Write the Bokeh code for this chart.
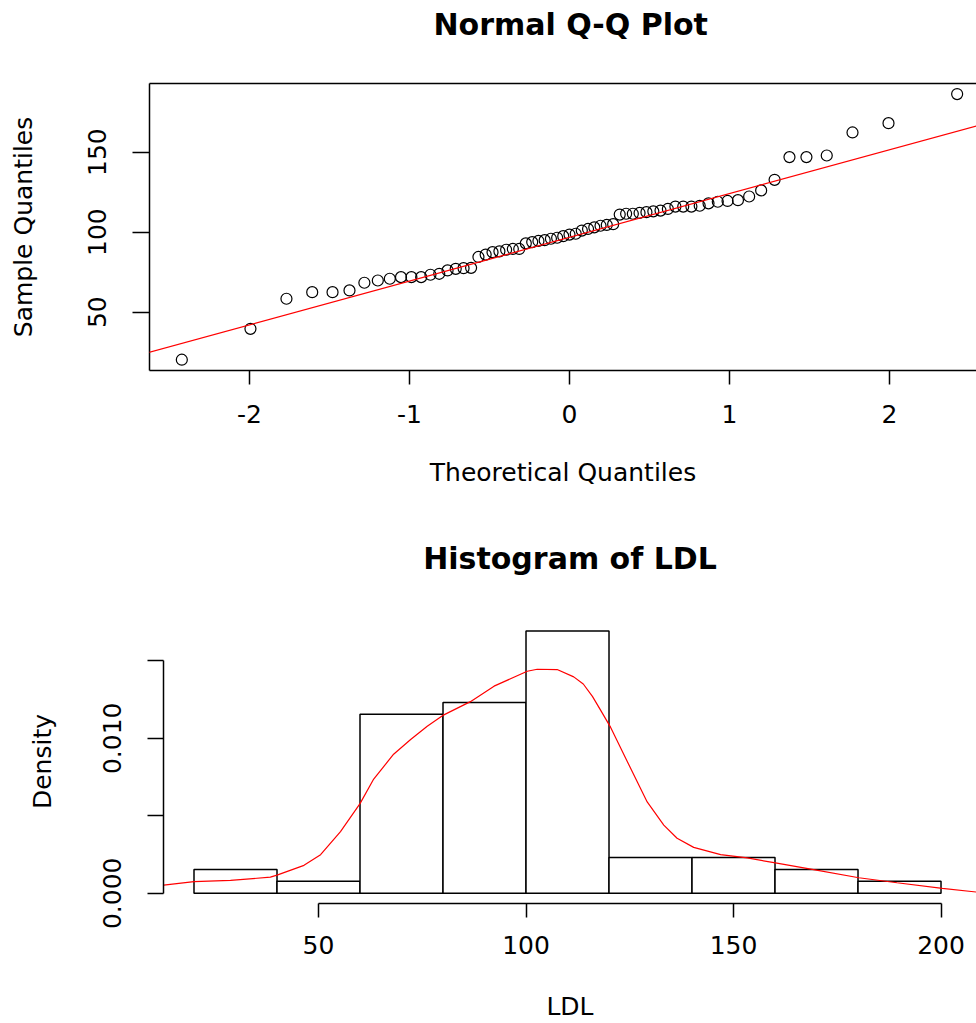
from bokeh.plotting import figure
from bokeh.models import LinearAxis, FixedTicker, Slope, Range1d, Title
from bokeh.embed import file_html
from bokeh.resources import INLINE

# ---------------- data: Normal Q-Q plot ----------------
theoretical_q = [-2.423, -1.994, -1.769, -1.608, -1.481, -1.375, -1.282, -1.198, -1.123, -1.053,
                 -0.988, -0.927, -0.869, -0.814, -0.762, -0.711, -0.662, -0.615, -0.569, -0.524,
                 -0.481, -0.438, -0.396, -0.354, -0.314, -0.273, -0.233, -0.194, -0.155, -0.116,
                 -0.077, -0.039, 0.0, 0.039, 0.077, 0.116, 0.155, 0.194, 0.233, 0.273,
                 0.314, 0.354, 0.396, 0.438, 0.481, 0.524, 0.569, 0.615, 0.662, 0.711,
                 0.762, 0.814, 0.869, 0.927, 0.988, 1.053, 1.123, 1.198, 1.282, 1.375,
                 1.481, 1.608, 1.769, 1.994, 2.423]
sample_q = [20.3, 39.6, 58.4, 62.5, 62.5, 63.6, 68.4, 69.8, 70.9, 71.9,
            71.9, 71.9, 73.4, 74.0, 76.1, 77.1, 77.5, 77.7, 84.5, 86.0,
            87.5, 88.0, 89.0, 89.5, 89.5, 93.0, 93.8, 94.5, 95.0, 95.9,
            96.5, 97.5, 98.5, 99.0, 101.0, 102.0, 103.0, 104.0, 104.5, 105.0,
            111.0, 111.5, 111.5, 112.0, 112.5, 113.0, 113.5, 114.5, 116.0, 116.0,
            116.0, 116.5, 118.0, 119.0, 119.5, 120.0, 122.3, 126.1, 132.7, 146.9,
            146.9, 147.9, 162.3, 168.1, 186.3]
qq_line_intercept = 96.8
qq_line_slope = 27.35
qq_xticks = [-2, -1, 0, 1, 2]
qq_xtick_labels = ["-2", "-1", "0", "1", "2"]
qq_yticks = [50, 100, 150]

# ---------------- data: histogram of LDL ----------------
bin_edges = [20, 40, 60, 80, 100, 120, 140, 160, 180, 200]
bin_density = [0.00154, 0.00077, 0.01154, 0.01231, 0.01692, 0.00231, 0.00231, 0.00154, 0.00077]
kde_x = [12.7, 20, 28.8, 38.4, 40, 46.5, 50.5, 55.3, 60, 63.3, 68.1, 72.2, 76.2, 80.2, 86.6,
         92.3, 100.3, 102.7, 107.5, 111.5, 113.8, 116, 118, 120.4, 124.4, 129.2, 133.2, 136.4,
         140.4, 146.9, 153.3, 160.1, 169.3, 180.2, 189.4, 200.3, 208.5]
kde_y = [0.00052, 0.00075, 0.00083, 0.00104, 0.00117, 0.0018, 0.00249, 0.00398, 0.00578,
         0.00737, 0.00897, 0.00992, 0.01077, 0.01151, 0.01236, 0.01336, 0.01432, 0.01445,
         0.01443, 0.01396, 0.0135, 0.0127, 0.0118, 0.0107, 0.0085, 0.00589, 0.0044, 0.00355,
         0.00296, 0.00249, 0.00228, 0.00196, 0.00153, 0.001, 0.00068, 0.00032, 0.00008]
hist_xticks = [50, 100, 150, 200]
hist_yticks = [0, 0.005, 0.01, 0.015]
hist_ytick_labels = ["0.000", "", "0.010", ""]

FONT = "DejaVu Sans"
FS = "25px"
LW = 1.5


def style_axis(ax, tick_out, label_standoff, axis_label_standoff):
    ax.axis_line_color = "black"
    ax.axis_line_width = LW
    ax.major_tick_line_color = "black"
    ax.major_tick_line_width = LW
    ax.major_tick_out = tick_out
    ax.major_tick_in = 0
    ax.minor_tick_line_color = None
    ax.major_label_text_font = FONT
    ax.major_label_text_font_size = FS
    ax.major_label_text_color = "black"
    ax.major_label_standoff = label_standoff
    ax.axis_label_text_font = FONT
    ax.axis_label_text_font_size = FS
    ax.axis_label_text_font_style = "normal"
    ax.axis_label_text_color = "black"
    ax.axis_label_standoff = axis_label_standoff


def make_title(text, align, offset):
    return Title(text=text, text_font=FONT, text_font_size="30px", text_font_style="bold",
                 text_color="black", align=align, offset=offset, standoff=4)


def top_edge_axis(visible_line, gap, anchor):
    # edge line above the frame; its (invisible) tick keeps the title at a distance
    ax = LinearAxis(ticker=FixedTicker(ticks=[anchor], minor_ticks=[]))
    ax.major_label_overrides = {anchor: ""}
    ax.axis_line_color = "black" if visible_line else None
    ax.axis_line_width = LW
    ax.major_tick_line_color = None
    ax.major_tick_out = gap
    ax.major_tick_in = 0
    ax.minor_tick_out = 0
    ax.minor_tick_in = 0
    ax.major_label_standoff = 0
    ax.major_label_text_font_size = "1px"
    return ax


# ---------------- top: Q-Q plot ----------------
p1 = figure(width=976, height=505, output_backend="svg", toolbar_location=None,
            x_range=Range1d(-2.625, 2.544), y_range=Range1d(13.56, 192.9),
            min_border_left=149, min_border_right=0, min_border_top=83, min_border_bottom=135,
            x_axis_label="Theoretical Quantiles", y_axis_label="Sample Quantiles")
p1.grid.visible = False
p1.outline_line_color = None
p1.background_fill_color = "white"
p1.border_fill_color = "white"

p1.xaxis.ticker = FixedTicker(ticks=qq_xticks, minor_ticks=[])
p1.xaxis.major_label_overrides = {t: s for t, s in zip(qq_xticks, qq_xtick_labels)}
p1.yaxis.ticker = FixedTicker(ticks=qq_yticks, minor_ticks=[])
style_axis(p1.xaxis[0], 14, 20, 32)
style_axis(p1.yaxis[0], 17, 26, 48)
p1.yaxis.major_label_orientation = "vertical"
p1.add_layout(top_edge_axis(True, 40, 0), "above")
p1.add_layout(make_title("Normal Q-Q Plot", "left", 284), "above")

p1.scatter(theoretical_q, sample_q, marker="circle", size=11, fill_color=None,
           line_color="black", line_width=1.2)
p1.add_layout(Slope(gradient=qq_line_slope, y_intercept=qq_line_intercept,
                    line_color="red", line_width=1.2))

# ---------------- bottom: histogram ----------------
p2 = figure(width=976, height=518, output_backend="svg", toolbar_location=None,
            x_range=Range1d(12.65, 208.55), y_range=Range1d(-0.00066, 0.01766),
            min_border_left=163, min_border_right=0, min_border_top=114, min_border_bottom=117,
            x_axis_label="LDL", y_axis_label="Density")
p2.grid.visible = False
p2.outline_line_color = None
p2.background_fill_color = "white"
p2.border_fill_color = "white"

p2.xaxis.ticker = FixedTicker(ticks=hist_xticks, minor_ticks=[])
p2.yaxis.ticker = FixedTicker(ticks=hist_yticks, minor_ticks=[])
p2.xaxis.bounds = (hist_xticks[0], hist_xticks[-1])
p2.yaxis.bounds = (hist_yticks[0], hist_yticks[-1])
p2.yaxis.major_label_overrides = {t: s for t, s in zip(hist_yticks, hist_ytick_labels)}
style_axis(p2.xaxis[0], 14, 18, 35)
style_axis(p2.yaxis[0], 16, 26, 44)
p2.yaxis.major_label_orientation = "vertical"
p2.add_layout(top_edge_axis(False, 42, 100), "above")
p2.add_layout(make_title("Histogram of LDL", "center", 0), "above")

p2.quad(left=bin_edges[:-1], right=bin_edges[1:], bottom=0, top=bin_density,
        fill_color="white", line_color="black", line_width=LW)
p2.line(kde_x, kde_y, line_color="red", line_width=1.2)

open("out.html", "w").write(file_html([p1, p2], INLINE))
